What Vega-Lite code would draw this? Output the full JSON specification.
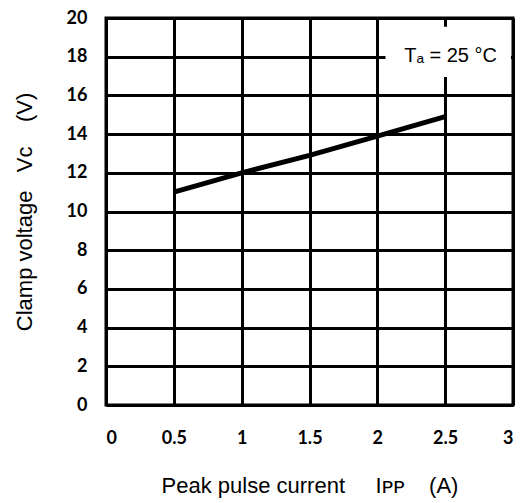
{
  "$schema": "https://vega.github.io/schema/vega-lite/v6.json",
  "width": 407,
  "height": 387,
  "autosize": {"type": "none"},
  "padding": {"left": 106, "top": 18, "right": 13, "bottom": 98},
  "background": "white",
  "config": {
    "view": {"stroke": "black", "strokeWidth": 3},
    "axis": {
      "grid": true, "gridColor": "black", "gridWidth": 3, "gridOpacity": 1,
      "domain": false, "ticks": false, "labelOverlap": false,
      "labelFont": "Lato", "labelFontWeight": "bold", "labelFontSize": 18, "labelColor": "black",
      "titleFont": "Liberation Sans", "titleFontWeight": "normal", "titleFontSize": 21, "titleColor": "black"
    }
  },
  "datasets": {
    "curve": [
      {"ipp": 0.5, "vc": 11.0},
      {"ipp": 1.0, "vc": 12.0},
      {"ipp": 1.5, "vc": 12.9},
      {"ipp": 2.0, "vc": 13.9},
      {"ipp": 2.5, "vc": 14.9}
    ],
    "box": [{"ipp": 2.06, "ipp2": 2.985, "vc": 16.95, "vc2": 19.55}],
    "note": [{"ipp": 2.54, "vc": 18.05, "label": "Tₐ = 25 °C"}]
  },
  "encoding": {
    "x": {
      "field": "ipp", "type": "quantitative",
      "scale": {"domain": [0, 3], "nice": false},
      "axis": {
        "values": [0, 0.5, 1, 1.5, 2, 2.5, 3], "format": "~g",
        "labelPadding": 24,
        "title": "Peak pulse current\u00a0\u00a0\u00a0\u00a0\u00a0Iᴘᴘ\u00a0\u00a0\u00a0\u00a0(A)", "titlePadding": 28, "titleFontSize": 22
      }
    },
    "y": {
      "field": "vc", "type": "quantitative",
      "scale": {"domain": [0, 20], "nice": false},
      "axis": {
        "values": [0, 2, 4, 6, 8, 10, 12, 14, 16, 18, 20],
        "labelPadding": 19,
        "title": "Clamp voltage\u00a0\u00a0\u00a0Vᴄ\u00a0\u00a0\u00a0\u00a0(V)", "titlePadding": 30, "titleFontSize": 22
      }
    }
  },
  "layer": [
    {
      "data": {"name": "curve"},
      "mark": {"type": "line", "color": "black", "strokeWidth": 5}
    },
    {
      "data": {"name": "box"},
      "mark": {"type": "rect", "color": "white"},
      "encoding": {
        "x2": {"field": "ipp2"},
        "y2": {"field": "vc2"}
      }
    },
    {
      "data": {"name": "note"},
      "mark": {"type": "text", "font": "Liberation Sans", "fontSize": 20, "color": "black", "align": "center", "baseline": "middle"},
      "encoding": {
        "text": {"field": "label"}
      }
    }
  ]
}
